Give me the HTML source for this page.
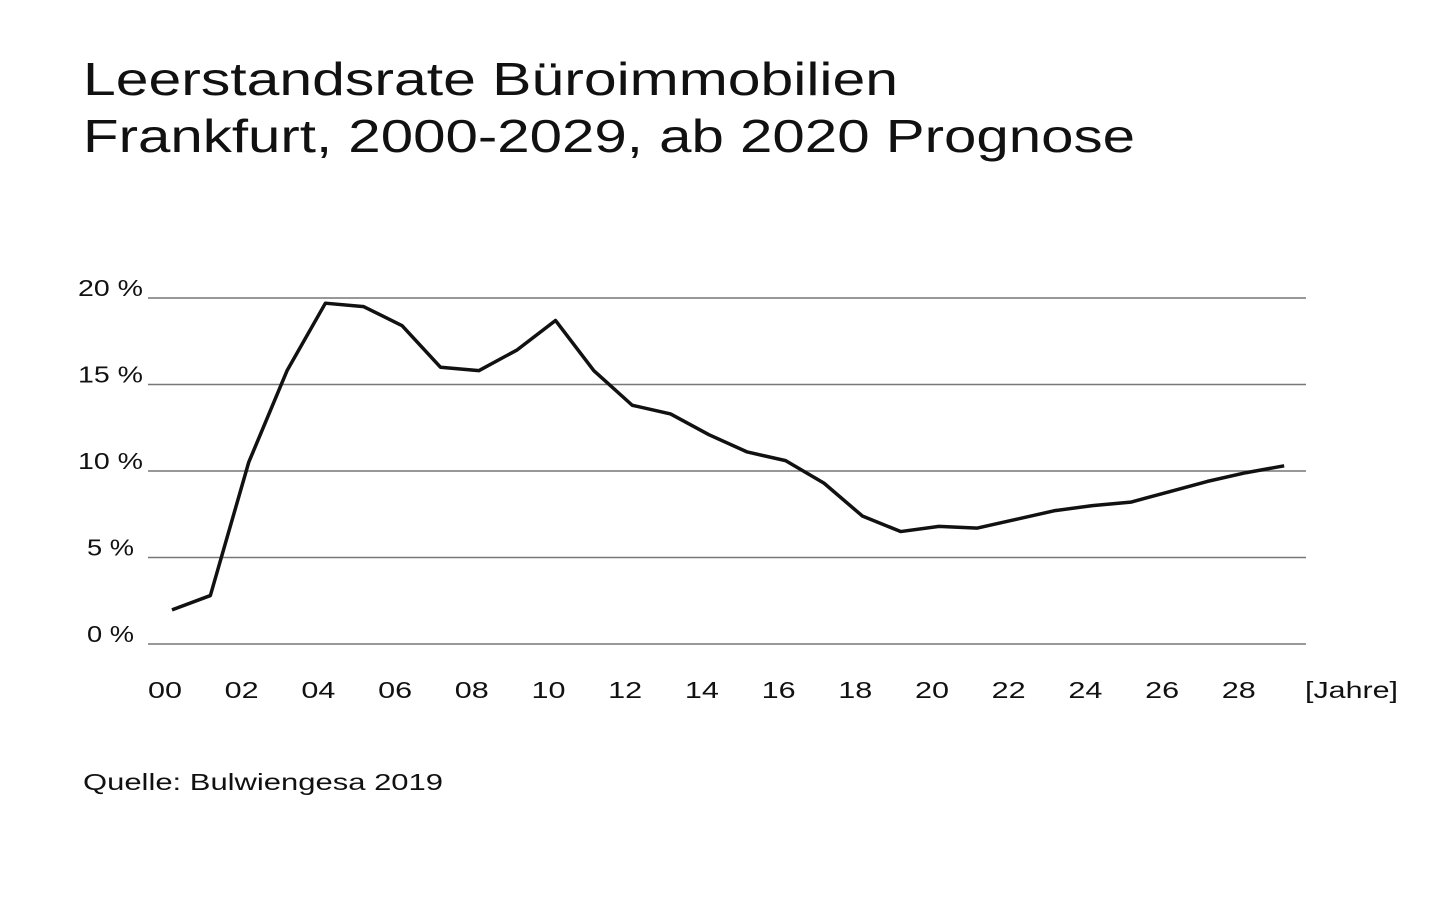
<!DOCTYPE html>
<html><head><meta charset="utf-8"><style>
html,body{margin:0;padding:0;background:#fff;width:1440px;height:900px;overflow:hidden}
svg{display:block}
text{font-family:"Liberation Sans",sans-serif;fill:#111}
</style></head><body>
<svg width="1440" height="900">
<text x="83" y="95" font-size="46" textLength="815" lengthAdjust="spacingAndGlyphs">Leerstandsrate Büroimmobilien</text>
<text x="83" y="152" font-size="46" textLength="1052" lengthAdjust="spacingAndGlyphs">Frankfurt, 2000-2029, ab 2020 Prognose</text>
<g id="grid"></g>
<g id="xlabels"></g>
<polyline id="line" fill="none" stroke="#111" stroke-width="3.5" stroke-linejoin="round"/>
<text x="1305" y="698" font-size="23" textLength="93" lengthAdjust="spacingAndGlyphs">[Jahre]</text>
<text x="83" y="790" font-size="23" textLength="360" lengthAdjust="spacingAndGlyphs">Quelle:  Bulwiengesa 2019</text>
</svg>
<script>
const years=[0,1,2,3,4,5,6,7,8,9,10,11,12,13,14,15,16,17,18,19,20,21,22,23,24,25,26,27,28,29];
const rates=[1.97,2.8,10.5,15.8,19.7,19.5,18.4,16.0,15.8,17.0,18.7,15.8,13.8,13.3,12.1,11.1,10.6,9.3,7.4,6.5,6.8,6.7,7.2,7.7,8.0,8.2,8.8,9.4,9.9,10.3];
const yTicks=[0,5,10,15,20];
const yTickLabels=["0 %","5 %","10 %","15 %","20 %"];
const xTickLabels=["00","02","04","06","08","10","12","14","16","18","20","22","24","26","28"];
const NS="http://www.w3.org/2000/svg";
const xs=y=>172+38.35*y;
const ys=v=>644-v*17.3;
const grid=document.getElementById('grid');
yTicks.forEach((t,i)=>{
 const l=document.createElementNS(NS,'line');
 l.setAttribute('x1',148);l.setAttribute('x2',1306);
 l.setAttribute('y1',ys(t));l.setAttribute('y2',ys(t));
 l.setAttribute('stroke','#777');l.setAttribute('stroke-width','1.5');
 
 
 grid.appendChild(l);
 const tx=document.createElementNS(NS,'text');
 const s=yTickLabels[i];
 tx.setAttribute('x',s.length>3?78:87);tx.setAttribute('y',ys(t)-2);
 tx.setAttribute('font-size','23');
 tx.setAttribute('textLength',s.length>3?65:47);
 tx.setAttribute('lengthAdjust','spacingAndGlyphs');
 tx.textContent=s;
 
 
 grid.appendChild(tx);
});
const xl=document.getElementById('xlabels');
xTickLabels.forEach((s,i)=>{
 const tx=document.createElementNS(NS,'text');
 tx.setAttribute('x',xs(i*2)-7);tx.setAttribute('y',698);
 tx.setAttribute('text-anchor','middle');tx.setAttribute('font-size','23');
 tx.setAttribute('textLength',34);
 tx.setAttribute('lengthAdjust','spacingAndGlyphs');
 tx.textContent=s;
 
 
 xl.appendChild(tx);
});
document.getElementById('line').setAttribute('points',years.map((y,i)=>xs(y)+','+ys(rates[i])).join(' '));
</script>
</body></html>
